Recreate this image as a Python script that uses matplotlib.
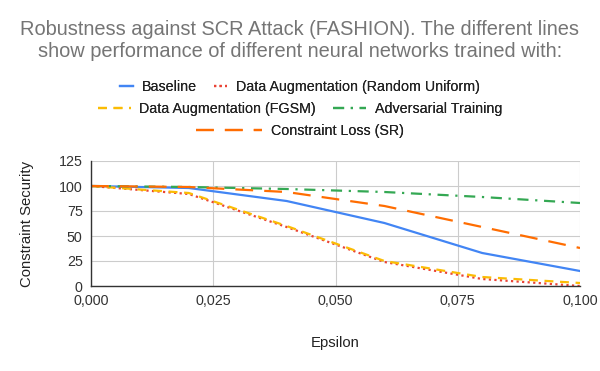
import matplotlib.pyplot as plt
from matplotlib.ticker import FuncFormatter

plt.rcParams['font.family'] = ['Liberation Sans', 'DejaVu Sans']

# data
epsilon = [0.0, 0.02, 0.04, 0.06, 0.08, 0.10]
baseline = [100, 98, 85, 63, 33, 15]
da_uniform = [100, 92, 59, 24, 7, 0]
da_fgsm = [100, 93, 60, 25, 9, 3]
adv_training = [100, 99, 97, 94, 89, 83]
constraint_loss = [100, 99, 94, 80, 59, 38]

x_ticks = [0.0, 0.025, 0.05, 0.075, 0.1]
y_ticks = [0, 25, 50, 75, 100, 125]

fig = plt.figure(figsize=(6, 3.71), dpi=100)
ax = fig.add_axes([91/600, 1-286/371, (580-91)/600, 125/371])

lw = 1.6
l1, = ax.plot(epsilon, baseline, color='#4285F4', lw=lw, label='Baseline')
l2, = ax.plot(epsilon, da_uniform, color='#EA4335', lw=lw, ls=(0, (1, 1.5)),
              label='Data Augmentation (Random Uniform)')
l3, = ax.plot(epsilon, da_fgsm, color='#FBBC04', lw=lw, ls=(0, (4, 3)),
              label='Data Augmentation (FGSM)')
l4, = ax.plot(epsilon, adv_training, color='#34A853', lw=lw, ls=(0, (5, 3, 1, 3)),
              label='Adversarial Training')
l5, = ax.plot(epsilon, constraint_loss, color='#FF6D01', lw=lw, ls=(0, (8, 5)),
              label='Constraint Loss (SR)')

ax.set_xlim(0, 0.1)
ax.set_ylim(0, 125)
ax.set_xticks(x_ticks)
ax.set_yticks(y_ticks)
ax.xaxis.set_major_formatter(FuncFormatter(lambda v, p: f'{v:.3f}'.replace('.', ',')))
ax.grid(True, color='#cccccc', lw=0.8)
ax.set_axisbelow(True)
for s in ['top', 'right']:
    ax.spines[s].set_visible(False)
for s in ['left', 'bottom']:
    ax.spines[s].set_color('#333333')
    ax.spines[s].set_linewidth(1)
ax.tick_params(length=0, labelsize=10.3, colors='#333333', pad=6)
ax.set_xlabel('Epsilon', fontsize=10.7, color='#222222', labelpad=20)
ax.set_ylabel('Constraint Security', fontsize=10.7, color='#222222', labelpad=18)

fig.text(0.5, 0.946, 'Robustness against SCR Attack (FASHION). The different lines\n'
         'show performance of different neural networks trained with:',
         ha='center', va='top', fontsize=14.4, color='#757575', linespacing=1.2)

rows = [([l1, l2], 87, 0.9), ([l3, l4], 109, 2.3), ([l5], 131, 4.6)]
for handles, ypix, hl in rows:
    leg = fig.legend(handles=handles, ncol=len(handles), loc='center',
                     bbox_to_anchor=(0.5, 1 - ypix/371), frameon=False,
                     fontsize=10.3, handlelength=hl, columnspacing=1.2,
                     handletextpad=0.6, borderpad=0)
    for t in leg.get_texts():
        t.set_color('#222222')
    fig.add_artist(leg)

fig.savefig('out.png', dpi=100)
